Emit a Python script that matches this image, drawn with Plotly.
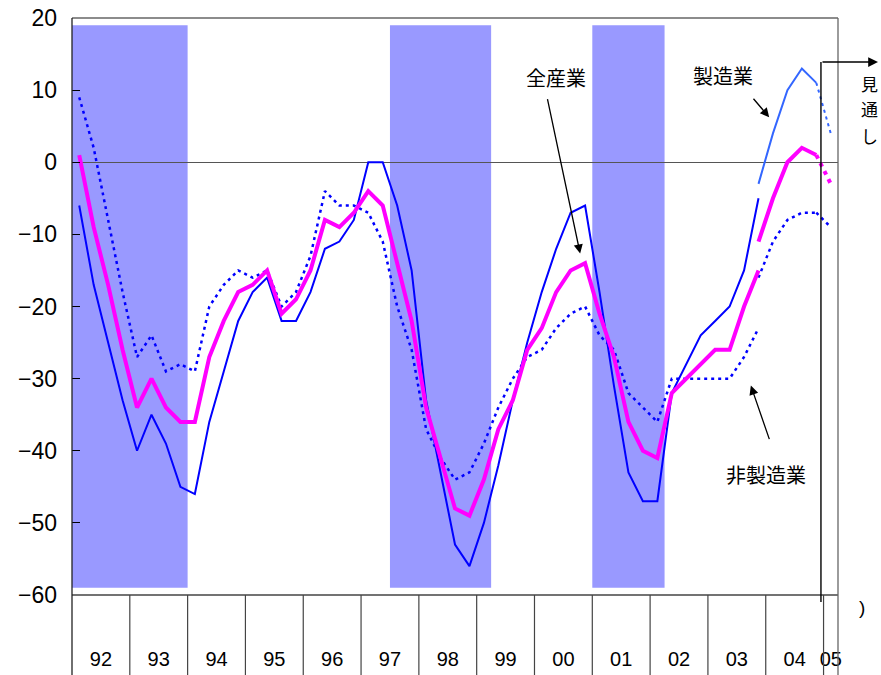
import plotly.graph_objects as go

# ---- data (quarterly, 1992Q1 ...) ----
year_labels = ["92", "93", "94", "95", "96", "97", "98", "99", "00", "01", "02", "03", "04", "05"]
n_quarters = 53  # 1992Q1 .. 2005Q1

# old survey basis, 1992Q1 .. 2003Q4
all_old = [1, -9, -17, -26, -34, -30, -34, -36,
           -36, -27, -22, -18, -17, -15, -21, -19,
           -15, -8, -9, -7, -4, -6, -14, -22,
           -34, -41, -48, -49, -44, -37, -33, -26,
           -23, -18, -15, -14, -21, -27, -36, -40,
           -41, -32, -30, -28, -26, -26, -20, -15]
mfg_old = [-6, -17, -25, -33, -40, -35, -39, -45,
           -46, -36, -29, -22, -18, -16, -22, -22,
           -18, -12, -11, -8, 0, 0, -6, -15,
           -33, -43, -53, -56, -50, -42, -33, -25,
           -18, -12, -7, -6, -18, -31, -43, -47,
           -47, -32, -28, -24, -22, -20, -15, -5]
nonmfg_old = [9, 2, -8, -18, -27, -24, -29, -28,
              -29, -20, -17, -15, -16, -15, -20, -18,
              -13, -4, -6, -6, -7, -11, -20, -26,
              -37, -41, -44, -43, -39, -34, -30, -27,
              -26, -23, -21, -20, -24, -26, -32, -34,
              -36, -30, -30, -30, -30, -30, -27, -23]
# new survey basis, 2003Q4 .. 2004Q4
new_start = 47
mfg_new = [-3, 4, 10, 13, 11]
all_new = [-11, -5, 0, 2, 1]
nonmfg_new = [-16, -11, -8, -7, -7]
# outlook 2005Q1
mfg_fc = 4
all_fc = -3
nonmfg_fc = -9

# shaded periods: (first quarter index, last quarter index + 1)
shaded = [(0, 8), (22, 29), (36, 41)]
shade_low, shade_high = -59, 19

outlook_chars = ["見", "通", "し"]

NUM_FONT = "Liberation Sans, Arial, sans-serif"
JP_FONT = "Noto Sans CJK JP, sans-serif"

MAGENTA = "#FF00FF"
BLUE = "#0000FF"
LIGHT_BLUE = "#3366FF"
DOT = "3px,4px"


def xs(start, n):
    return [start + k + 0.5 for k in range(n)]


fig = go.Figure()

# non-manufacturing (dotted)
fig.add_trace(go.Scatter(x=xs(0, len(nonmfg_old)), y=nonmfg_old, mode="lines",
                         line=dict(color=BLUE, width=2.5, dash=DOT)))
fig.add_trace(go.Scatter(x=xs(new_start, len(nonmfg_new)), y=nonmfg_new, mode="lines",
                         line=dict(color=BLUE, width=2.5, dash=DOT)))
fig.add_trace(go.Scatter(x=xs(new_start + len(nonmfg_new) - 1, 2), y=[nonmfg_new[-1], nonmfg_fc],
                         mode="lines", line=dict(color=BLUE, width=2.5, dash=DOT)))

# manufacturing
fig.add_trace(go.Scatter(x=xs(0, len(mfg_old)), y=mfg_old, mode="lines",
                         line=dict(color=BLUE, width=2)))
fig.add_trace(go.Scatter(x=xs(new_start, len(mfg_new)), y=mfg_new, mode="lines",
                         line=dict(color=LIGHT_BLUE, width=2)))
fig.add_trace(go.Scatter(x=xs(new_start + len(mfg_new) - 1, 2), y=[mfg_new[-1], mfg_fc],
                         mode="lines", line=dict(color=LIGHT_BLUE, width=2, dash=DOT)))

# all industries
fig.add_trace(go.Scatter(x=xs(0, len(all_old)), y=all_old, mode="lines",
                         line=dict(color=MAGENTA, width=4)))
fig.add_trace(go.Scatter(x=xs(new_start, len(all_new)), y=all_new, mode="lines",
                         line=dict(color=MAGENTA, width=4)))
fig.add_trace(go.Scatter(x=xs(new_start + len(all_new) - 1, 2), y=[all_new[-1], all_fc],
                         mode="lines", line=dict(color=MAGENTA, width=4, dash="4px,5px")))

shapes = []
for a, b in shaded:
    shapes.append(dict(type="rect", xref="x", yref="y", x0=a, x1=b, y0=shade_low, y1=shade_high,
                       fillcolor="#9999FF", line=dict(width=0), layer="below"))

BOT = -0.14
# frame
shapes.append(dict(type="line", xref="paper", yref="paper", x0=0, x1=1, y0=1, y1=1,
                   line=dict(color="#666666", width=1.3)))
shapes.append(dict(type="line", xref="paper", yref="paper", x0=0, x1=1, y0=0, y1=0,
                   line=dict(color="#444444", width=1.3)))
shapes.append(dict(type="line", xref="paper", yref="paper", x0=0, x1=0, y0=BOT, y1=1,
                   line=dict(color="#222222", width=1.3)))
shapes.append(dict(type="line", xref="paper", yref="paper", x0=1, x1=1, y0=BOT, y1=1,
                   line=dict(color="#666666", width=1.3)))
# year separators below axis
for k in range(1, len(year_labels)):
    shapes.append(dict(type="line", xref="x", yref="paper", x0=4 * k, x1=4 * k, y0=BOT, y1=0,
                       line=dict(color="#444444", width=1.2)))
# outlook bracket line
shapes.append(dict(type="line", xref="x", yref="paper", x0=51.82, x1=51.82, y0=-0.012, y1=0.9237,
                   line=dict(color="#000000", width=1.4)))

tickvals = [4 * k + 2 for k in range(len(year_labels) - 1)] + [52.5]

annotations = [
    # outlook arrow
    dict(xref="paper", yref="paper", x=1.0522, y=0.9237, text="", showarrow=True,
         ax=-57, ay=0, arrowhead=2, arrowsize=1.4, arrowwidth=1.4, arrowcolor="#000000", standoff=0),
    dict(xref="paper", yref="paper", x=1.031, y=-0.021, xanchor="center", yanchor="middle",
         text=")", showarrow=False, font=dict(family=NUM_FONT, size=19, color="#000000")),
    # labels
    dict(xref="x", yref="y", x=33.5, y=11.75, text="全産業", showarrow=False,
         font=dict(family=JP_FONT, size=20, color="#000000")),
    dict(xref="x", yref="y", x=45.05, y=12.0, text="製造業", showarrow=False,
         font=dict(family=JP_FONT, size=20, color="#000000")),
    dict(xref="x", yref="y", x=48.0, y=-43.3, text="非製造業", showarrow=False,
         font=dict(family=JP_FONT, size=20, color="#000000")),
    # arrows
    dict(xref="x", yref="y", x=35.16, y=-12.66, text="", showarrow=True, ax=-33, ay=-156,
         arrowhead=2, arrowsize=1.4, arrowwidth=1.3, arrowcolor="#000000", standoff=0),
    dict(xref="x", yref="y", x=48.24, y=6.24, text="", showarrow=True, ax=-17, ay=-20,
         arrowhead=2, arrowsize=1.4, arrowwidth=1.3, arrowcolor="#000000", standoff=0),
    dict(xref="x", yref="y", x=46.97, y=-30.97, text="", showarrow=True, ax=19, ay=55,
         arrowhead=2, arrowsize=1.4, arrowwidth=1.3, arrowcolor="#000000", standoff=0),
]
# vertical "見通し" label, one character per line
for ch, yp in zip(outlook_chars, [0.8873, 0.8423, 0.7972]):
    annotations.append(dict(xref="paper", yref="paper", x=1.0535, y=yp, xanchor="right",
                            yanchor="middle", text=ch, showarrow=False, borderpad=0,
                            font=dict(family=JP_FONT, size=17, color="#000000")))

fig.update_layout(
    width=881, height=675,
    margin=dict(l=72, r=43, t=18, b=80, autoexpand=False),
    paper_bgcolor="white", plot_bgcolor="white",
    showlegend=False,
    shapes=shapes, annotations=annotations,
    xaxis=dict(range=[0, n_quarters], showgrid=False, zeroline=False, showline=False,
               tickmode="array", tickvals=tickvals, ticktext=year_labels, ticks="",
               tickfont=dict(family=NUM_FONT, size=20, color="#000000"),
               ticklabelstandoff=50, fixedrange=True),
    yaxis=dict(range=[-60, 20], dtick=10, showgrid=False, showline=False,
               ticks="inside", ticklen=8, tickwidth=1.2, tickcolor="#000000",
               zeroline=True, zerolinecolor="#555555", zerolinewidth=1.3,
               tickfont=dict(family=NUM_FONT, size=23, color="#000000"),
               ticklabelstandoff=14, fixedrange=True),
)

fig.write_html("out.html", config={"displayModeBar": False},
               post_script="document.body.style.margin='0px';document.body.style.overflow='hidden';")
